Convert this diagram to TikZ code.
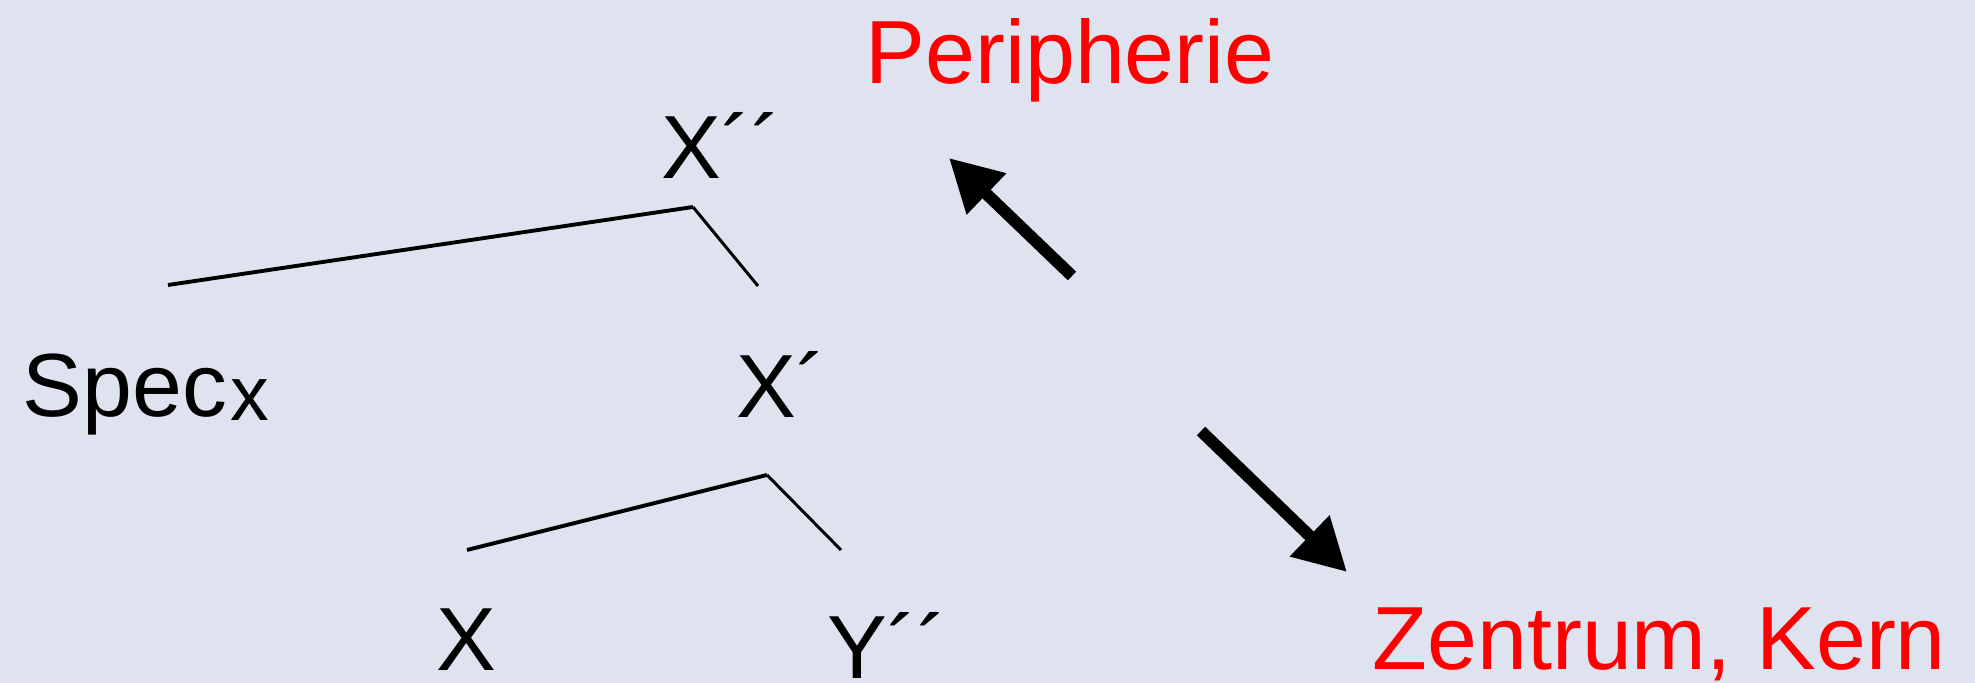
\documentclass[tikz,border=0pt]{standalone}
\usepackage{fontspec}
\setmainfont{Liberation Sans}
\usetikzlibrary{arrows.meta}
\definecolor{bg}{RGB}{223,227,239}
\definecolor{hilite}{RGB}{255,0,0}
\definecolor{ink}{RGB}{0,0,0}

\begin{document}
\begin{tikzpicture}[x=0.01cm, y=-0.01cm,
  word/.style={anchor=base west, inner sep=0pt, font=\fontsize{25.5}{30}\selectfont},
  branch/.style={draw=ink, line width=1.1pt},
  movearrow/.style={-{Triangle[length=5.2mm, width=5.4mm]}, line width=3.4pt, draw=ink}]
  % Background (fixes the page size)
  \fill[bg] (0,0) rectangle (1975,683);
  \useasboundingbox (0,0) rectangle (1975,683);

  % Tree labels
  \node[word] (xbartwo) at (661,179) {X´´};
  \node[word] (spec)    at (22,417)  {Spec\kern1pt{\fontsize{22}{24}\selectfont\raisebox{-1pt}{x}}};
  \node[word] (xbarone) at (736,418) {X´};
  \node[word] (head)    at (436,671) {X};
  \node[word] (compl)   at (827,679) {Y´´};

  % Branch points and branch ends
  \coordinate (topfork) at (693,207);
  \coordinate (specend) at (168,285);
  \coordinate (xoneend) at (758,286);
  \coordinate (midfork) at (767,475);
  \coordinate (headend) at (467,550);
  \coordinate (complend) at (841,550);

  % Branches
  \draw[branch] (specend) -- (topfork);
  \draw[branch, line width=0.85pt] (topfork) -- (xoneend);
  \draw[branch] (headend) -- (midfork);
  \draw[branch, line width=0.85pt] (midfork) -- (complend);

  % Red labels
  \node[word, text=hilite] (periph) at (865,84)   {Peripherie};
  \node[word, text=hilite] (centre) at (1372,670) {Zentrum, Kern};

  % Arrows out of the tree
  \coordinate (uptail)   at (1072,276);
  \coordinate (uptip)    at (949,158);
  \coordinate (downtail) at (1201,431);
  \coordinate (downtip)  at (1347,572);
  \draw[movearrow] (uptail) -- (uptip);
  \draw[movearrow] (downtail) -- (downtip);
\end{tikzpicture}
\end{document}
